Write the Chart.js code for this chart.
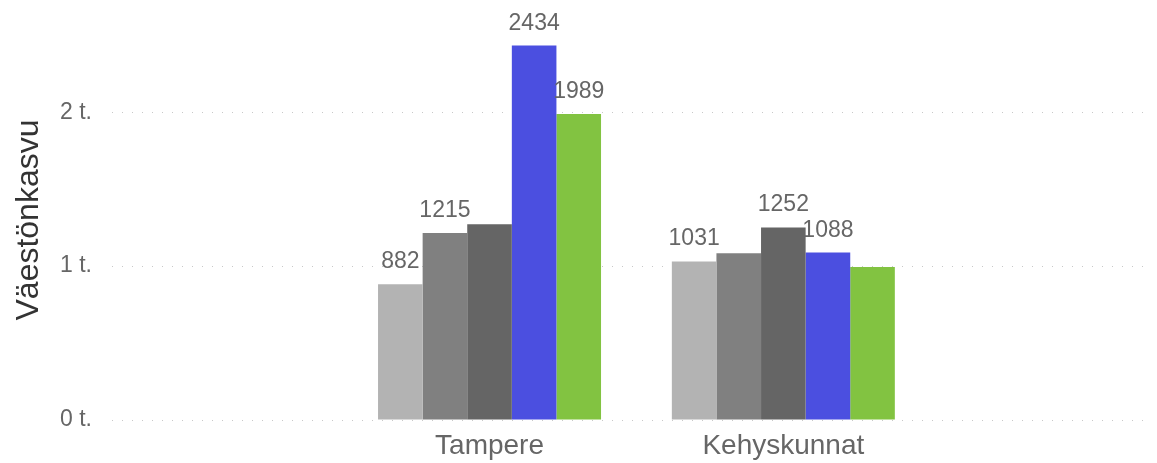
<!DOCTYPE html>
<html>
<head>
<meta charset="utf-8">
<script src="https://cdn.jsdelivr.net/npm/chart.js@4/dist/chart.umd.min.js"></script>
<style>
  html, body { margin: 0; padding: 0; background: #ffffff; }
  #wrap { width: 1157px; height: 463px; position: relative; }
</style>
</head>
<body>
<div id="wrap"><canvas id="c" width="1157" height="463"></canvas></div>
<script>
// ---- data ----
const categories = ['Tampere', 'Kehyskunnat'];
const seriesNames = ['Sarja 1', 'Sarja 2', 'Sarja 3', 'Sarja 4', 'Sarja 5'];
const series1 = [882, 1031];
const series2 = [1215, 1084];
const series3 = [1273, 1252];
const series4 = [2434, 1088];
const series5 = [1989, 995];
// which value labels are visible (per series, per category)
const labelShown1 = [true, true];
const labelShown2 = [true, false];
const labelShown3 = [false, true];
const labelShown4 = [true, true];
const labelShown5 = [true, false];
const tickValues = [0, 1000, 2000];
const tickLabels = ['0 t.', '1 t.', '2 t.'];
const axisTitle = 'Väestönkasvu';

const colors = ['#b3b3b3', '#808080', '#656565', '#4b4fe0', '#82c341'];
const allSeries = [series1, series2, series3, series4, series5];
const allShown = [labelShown1, labelShown2, labelShown3, labelShown4, labelShown5];

const datasets = allSeries.map((s, i) => ({
  label: seriesNames[i],
  data: s.map((v, j) => ({ x: j, y: v })),
  backgroundColor: colors[i],
  borderWidth: 0,
  categoryPercentage: 0.759,
  barPercentage: 1.0,
  showLabels: allShown[i]
}));

const valueLabels = {
  id: 'valueLabels',
  afterDatasetsDraw(chart) {
    const ctx = chart.ctx;
    ctx.save();
    ctx.font = '23px "Liberation Sans", Arial, sans-serif';
    ctx.fillStyle = '#666666';
    ctx.textAlign = 'center';
    ctx.textBaseline = 'alphabetic';
    chart.data.datasets.forEach((ds, i) => {
      const meta = chart.getDatasetMeta(i);
      meta.data.forEach((bar, j) => {
        if (!ds.showLabels[j]) return;
        ctx.fillText(String(ds.data[j].y), bar.x, bar.y - 16);
      });
    });
    ctx.restore();
  }
};

new Chart(document.getElementById('c'), {
  type: 'bar',
  data: { datasets },
  options: {
    responsive: false,
    animation: false,
    devicePixelRatio: 1,
    layout: { padding: { top: 20, right: 7, left: 0, bottom: 0 } },
    plugins: { legend: { display: false }, tooltip: { enabled: false } },
    scales: {
      x: {
        type: 'linear',
        min: -1.285,
        max: 2.248,
        offset: false,
        grid: { display: false, drawTicks: false },
        border: { display: false },
        afterBuildTicks: (scale) => { scale.ticks = categories.map((c, i) => ({ value: i })); },
        afterFit: (scale) => { scale.height = 43; scale.paddingLeft = 0; scale.paddingRight = 0; },
        ticks: {
          padding: 9,
          maxRotation: 0,
          autoSkip: false,
          color: '#666666',
          font: { family: '"Liberation Sans", Arial, sans-serif', size: 28 },
          callback: (v) => categories[v] !== undefined ? categories[v] : ''
        }
      },
      y: {
        min: 0,
        max: 2600,
        afterBuildTicks: (scale) => { scale.ticks = tickValues.map(v => ({ value: v })); },
        afterFit: (scale) => { scale.width = 112; scale.paddingTop = 0; scale.paddingBottom = 0; },
        grid: {
          color: '#c8c8c8',
          lineWidth: 1,
          drawTicks: false
        },
        border: { display: false, dash: [1, 9] },
        ticks: {
          padding: 20,
          color: '#666666',
          font: { family: '"Liberation Sans", Arial, sans-serif', size: 23 },
          callback: (v) => { const k = tickValues.indexOf(v); return k >= 0 ? tickLabels[k] : ''; }
        },
        title: {
          display: true,
          text: axisTitle,
          color: '#333333',
          padding: { top: 10, bottom: 0 },
          font: { family: '"Liberation Sans", Arial, sans-serif', size: 32 }
        }
      }
    }
  },
  plugins: [valueLabels]
});
</script>
</body>
</html>
